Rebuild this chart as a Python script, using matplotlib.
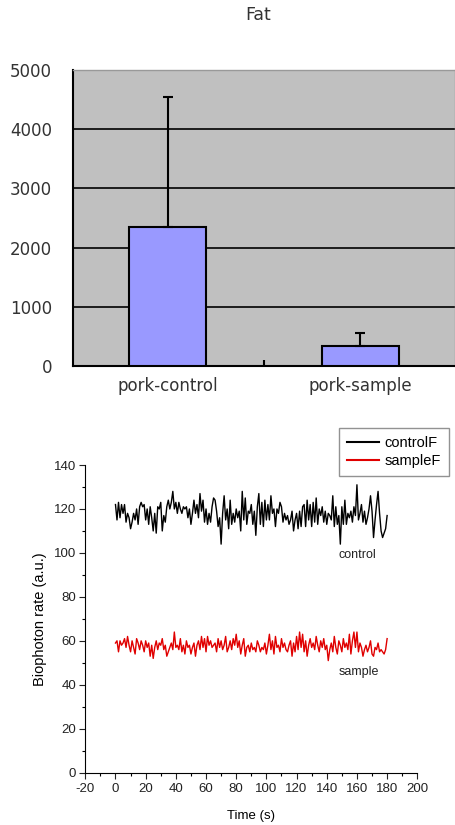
import matplotlib
matplotlib.use('Agg')
import matplotlib.pyplot as plt
import numpy as np
from matplotlib.ticker import MultipleLocator

plt.rcParams['axes.unicode_minus'] = False

# bar chart data (Fat)
groups = ['pork-control', 'pork-sample']
fat_mean = [2350, 340]
fat_sd = [2190, 210]

# biophoton time series, one point per second
time_s = np.arange(0, 181)
control = [
    122, 115, 123, 116, 122, 118, 122, 114, 118, 116,
    111, 114, 118, 115, 120, 113, 121, 123, 121, 122,
    115, 120, 113, 121, 116, 110, 118, 109, 121, 120,
    123, 110, 117, 114, 121, 124, 120, 123, 128, 120,
    123, 118, 123, 120, 118, 121, 120, 121, 116, 120,
    113, 118, 124, 118, 122, 116, 127, 119, 124, 114,
    120, 113, 118, 114, 121, 125, 124, 119, 112, 116,
    104, 118, 126, 115, 120, 111, 124, 113, 118, 114,
    120, 116, 119, 110, 128, 115, 125, 113, 119, 118,
    122, 113, 119, 108, 121, 127, 113, 123, 112, 124,
    115, 122, 115, 126, 118, 120, 112, 120, 118, 123,
    121, 114, 118, 115, 117, 113, 115, 119, 110, 115,
    118, 111, 119, 112, 121, 122, 112, 124, 115, 122,
    112, 123, 114, 125, 113, 120, 117, 121, 114, 119,
    113, 118, 117, 115, 126, 112, 121, 113, 117, 104,
    121, 113, 124, 113, 118, 116, 119, 114, 121, 117,
    131, 115, 118, 122, 114, 119, 113, 116, 120, 126,
    119, 107, 115, 122, 128, 118, 110, 107, 109, 111,
    117,
]
sample = [
    59, 60, 55, 60, 58, 59, 61, 57, 62, 58,
    55, 60, 57, 54, 61, 59, 56, 60, 58, 55,
    60, 57, 59, 53, 58, 52, 57, 60, 56, 59,
    58, 61, 56, 58, 53, 55, 57, 59, 56, 64,
    57, 58, 56, 61, 55, 58, 54, 60, 57, 58,
    54, 57, 59, 53, 58, 60, 56, 62, 57, 61,
    55, 62, 58, 60, 57, 58, 59, 55, 61, 57,
    60, 56, 58, 62, 55, 57, 60, 56, 61, 58,
    63, 57, 60, 54, 58, 61, 53, 57, 58, 55,
    59, 56, 57, 55, 60, 58, 55, 57, 56, 59,
    54, 58, 63, 56, 60, 54, 62, 57, 58, 55,
    61, 57, 59, 56, 55, 58, 60, 53, 59, 55,
    62, 56, 64, 57, 63, 55, 60, 53, 58, 61,
    57, 59, 56, 62, 58, 55, 60, 57, 61, 56,
    58, 51, 56, 59, 55, 62, 57, 54, 60, 58,
    55, 61, 57, 59, 56, 63, 54, 60, 64, 57,
    64, 55, 59, 57, 53, 56, 58, 55, 57, 60,
    54, 53, 57, 56, 59, 55, 56, 55, 54, 56,
    61,
]

fig = plt.figure(figsize=(4.56, 8.25), dpi=100)

# ---- top: bar chart ----
ax1 = fig.add_axes([73/456, 1-366/825, 382/456, 296/825])
ax1.set_facecolor('#c0c0c0')
xpos = np.arange(len(groups))
ax1.bar(xpos, fat_mean, width=0.4, color='#9999ff', edgecolor='black', linewidth=1.5, zorder=3)
ax1.errorbar(xpos, fat_mean, yerr=[np.zeros(len(fat_sd)), fat_sd], fmt='none',
             ecolor='black', elinewidth=1.5, capsize=3.5, capthick=1.5, zorder=4)
ax1.set_xlim(-0.49, 1.49)
ax1.set_ylim(0, 5000)
ax1.set_yticks([0, 1000, 2000, 3000, 4000, 5000])
ax1.yaxis.grid(True, color='black', linewidth=1.2, zorder=1)
ax1.set_axisbelow(True)
ax1.set_xticks(xpos)
ax1.set_xticklabels(groups, fontsize=12, color='#333333')
ax1.set_xticks([0.5], minor=True)
ax1.tick_params(axis='x', which='major', length=0, pad=8)
ax1.tick_params(axis='x', which='minor', direction='in', length=4, width=1.5)
ax1.tick_params(axis='y', length=0, pad=15, labelsize=12, labelcolor='#333333')
for s in ['left', 'bottom']:
    ax1.spines[s].set_linewidth(1.5)
for s in ['top', 'right']:
    ax1.spines[s].set_color('#999999')
    ax1.spines[s].set_linewidth(1)
fig.text(258/456, 1-15/825, 'Fat', ha='center', va='center', fontsize=12.5, color='#333333')

# ---- bottom: time series ----
fam = ['Liberation Sans', 'DejaVu Sans']
ax2 = fig.add_axes([85.3/456, 1-772.7/825, 332/456, 307.7/825])
ax2.plot(time_s, control, color='black', linewidth=1.0, label='controlF')
ax2.plot(time_s, sample, color='#e00000', linewidth=1.0, label='sampleF')
ax2.set_xlim(-20, 200)
ax2.set_ylim(0, 140)
ax2.xaxis.set_major_locator(MultipleLocator(20))
ax2.xaxis.set_minor_locator(MultipleLocator(10))
ax2.yaxis.set_major_locator(MultipleLocator(20))
ax2.yaxis.set_minor_locator(MultipleLocator(10))
ax2.tick_params(which='major', direction='out', length=4, width=0.8, labelsize=9.5, colors='#222222')
ax2.tick_params(which='minor', direction='out', length=2.5, width=0.8)
ax2.tick_params(axis='y', which='major', pad=2.5)
for s in ['top', 'right']:
    ax2.spines[s].set_visible(False)
for lab in ax2.get_xticklabels() + ax2.get_yticklabels():
    lab.set_family(fam)
ax2.set_xlabel('Time (s)', fontsize=9.5, family=fam, labelpad=11)
ax2.set_ylabel('Biophoton rate (a.u.)', fontsize=10.5, family=fam, labelpad=5)
ax2.text(160, 99, 'control', ha='center', va='center', fontsize=9, color='#222222', family=fam)
ax2.text(161, 46, 'sample', ha='center', va='center', fontsize=9, color='#222222', family=fam)
leg = fig.legend(loc='upper right', bbox_to_anchor=(449/456, 1-428/825), borderaxespad=0,
                 frameon=True, fancybox=False, edgecolor='#777777', handlelength=2.2,
                 borderpad=0.55, labelspacing=0.25, handletextpad=0.35,
                 prop={'family': fam, 'size': 10.5})
leg.get_frame().set_linewidth(1.0)
for h in leg.get_lines():
    h.set_linewidth(1.5)

fig.savefig('out.png', dpi=100)
